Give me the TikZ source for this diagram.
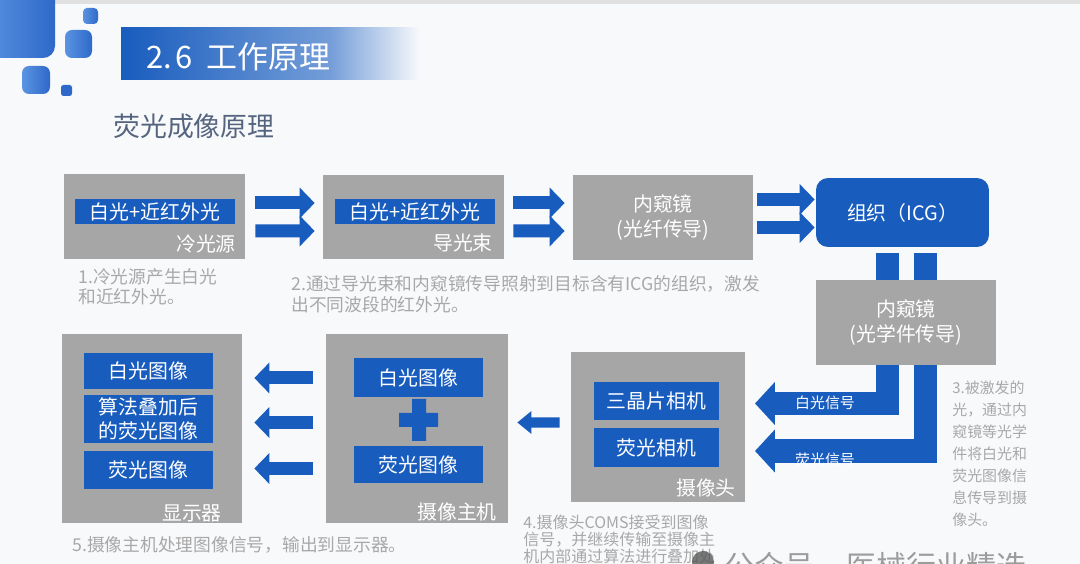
\documentclass[tikz,border=0pt]{standalone}
\usepackage{fontspec}
\setmainfont{Noto Sans CJK SC}
\usetikzlibrary{arrows.meta,calc}
\definecolor{pageback}{HTML}{F8F9FB}
\definecolor{boxgray}{HTML}{A6A6A6}
\definecolor{boxblue}{HTML}{185CBE}
\definecolor{notegray}{HTML}{A8A8A8}
\definecolor{subblue}{HTML}{56657F}
\definecolor{decolight}{HTML}{5B94E2}
\definecolor{decodark}{HTML}{2E69C9}

\begin{document}
\begin{tikzpicture}[x=0.02cm,y=-0.02cm,
  graybox/.style={fill=boxgray,inner sep=0pt,text=white,align=center,font=\fontsize{11.3pt}{14.7pt}\selectfont},
  bluebox/.style={fill=boxblue,inner sep=0pt,text=white,align=center,font=\fontsize{11.3pt}{13.6pt}\selectfont},
  boxlabel/.style={text=white,inner sep=0pt,font=\fontsize{11.3pt}{13pt}\selectfont},
  note/.style={text=notegray,inner sep=0pt,anchor=north west,align=left,font=\fontsize{10.1pt}{11.4pt}\selectfont},
  siglabel/.style={text=white,inner sep=0pt,font=\fontsize{8.5pt}{10pt}\selectfont},
  flow/.style={draw=boxblue,line width=7.4pt,-{Triangle[length=8.5pt,width=17pt]}},
  signal/.style={draw=boxblue,line width=13.6pt,line join=miter,-{Triangle[length=11.3pt,width=23.8pt]}},
  bar/.style={draw=boxblue,line width=13.6pt},
  small/.style={draw=boxblue,line width=5.7pt,-{Triangle[length=8pt,width=12.5pt]}},
  deco/.style={left color=decolight,right color=decodark}]
\useasboundingbox (0,0) rectangle (1080,564);
\clip (0,0) rectangle (1080,564);
\fill[pageback] (0,0) rectangle (1080,564);
\fill[black!12] (0,0) rectangle (1080,4);
\shade[deco,rounded corners=0.24cm] (-20,-20) rectangle (55,58);
\shade[deco,rounded corners=0.08cm] (83,8) rectangle (98,24);
\shade[deco,rounded corners=0.14cm] (65,30) rectangle (92,58);
\shade[deco,rounded corners=0.14cm] (22,66) rectangle (50,94);
\fill[decodark,rounded corners=0.05cm] (61,85) rectangle (72,96);
\shade[left color=boxblue,right color=boxblue!60!white] (121,28) rectangle (330,80);
\shade[left color=boxblue!60!white,right color=pageback] (330,28) rectangle (420,80);
\node[anchor=west,text=white,inner sep=0pt,font=\fontsize{17.6pt}{20pt}\selectfont] (title) at (146,57) {2.\hspace{0.12em}6\hspace{0.45em}工作原理};
\node[anchor=west,text=subblue,inner sep=0pt,font=\fontsize{15.3pt}{18pt}\selectfont] (subtitle) at (113,126) {荧光成像原理};

\node[graybox,minimum width=3.62cm,minimum height=1.70cm] (cold) at (154.5,216.5) {};
\node[bluebox,minimum width=3.20cm,minimum height=0.50cm] (coldin) at (155,211.5) {白光+近红外光};
\node[boxlabel] (coldlab) at (206,243.5) {冷光源};
\node[graybox,minimum width=3.62cm,minimum height=1.68cm] (guide) at (413.5,217) {};
\node[bluebox,minimum width=3.20cm,minimum height=0.50cm] (guidein) at (415,211.5) {白光+近红外光};
\node[boxlabel] (guidelab) at (463,243) {导光束};
\node[graybox,minimum width=3.60cm,minimum height=1.70cm] (endoa) at (663,217.5) {内窥镜\\(光纤传导)};
\node[bluebox,rounded corners=0.24cm,minimum width=3.46cm,minimum height=1.38cm] (icg) at (902.5,212.5) {组织（ICG）};
\node[graybox,minimum width=3.60cm,minimum height=1.70cm] (endob) at (906,322.5) {内窥镜\\(光学件传导)};

\node[graybox,minimum width=3.48cm,minimum height=3.00cm] (camera) at (658,427) {};
\node[bluebox,minimum width=2.50cm,minimum height=0.76cm] (camw) at (656.5,401) {三晶片相机};
\node[bluebox,minimum width=2.50cm,minimum height=0.78cm] (camf) at (656.5,447.5) {荧光相机};
\node[boxlabel] (cameralab) at (706,488) {摄像头};
\node[graybox,minimum width=3.64cm,minimum height=3.78cm] (host) at (417,428.5) {};
\node[bluebox,minimum width=2.58cm,minimum height=0.78cm] (hostw) at (418.5,377.5) {白光图像};
\node[bluebox,minimum width=2.58cm,minimum height=0.74cm] (hostf) at (418.5,464.5) {荧光图像};
\fill[boxblue] (412,399) rectangle (426,441) (399,413) rectangle (438,427);
\node[boxlabel] (hostlab) at (457,512) {摄像主机};
\node[graybox,minimum width=3.60cm,minimum height=3.78cm] (monitor) at (152,428.5) {};
\node[bluebox,minimum width=2.58cm,minimum height=0.72cm] (monw) at (148.5,371) {白光图像};
\node[bluebox,minimum width=2.58cm,minimum height=0.96cm] (monm) at (148.5,419) {算法叠加后\\的荧光图像};
\node[bluebox,minimum width=2.58cm,minimum height=0.76cm] (monf) at (148.5,470) {荧光图像};
\node[boxlabel] (monitorlab) at (192,513) {显示器};

\draw[flow] ($(cold.east)+(10,-13.5)$) -- ($(guide.west)+(-8,-14)$);
\draw[flow] ($(cold.east)+(10,14.5)$) -- ($(guide.west)+(-8,14)$);
\draw[flow] ($(guide.east)+(9,-14)$) -- ($(endoa.west)+(-8,-14.5)$);
\draw[flow] ($(guide.east)+(9,14)$) -- ($(endoa.west)+(-8,13.5)$);
\draw[flow] ($(endoa.east)+(4,-18)$) -- ($(icg.west)+(-1,-13)$);
\draw[flow] ($(endoa.east)+(4,10)$) -- ($(icg.west)+(-1,15)$);

\coordinate (wcol) at ($(endob.north)+(-18.5,0)$);
\coordinate (fcol) at ($(endob.north)+(19.5,0)$);
\draw[bar] ($(wcol |- icg.south)+(0,6)$) -- (wcol);
\draw[bar] ($(fcol |- icg.south)+(0,6)$) -- (fcol);
\coordinate (wtip) at (755,403.5);
\coordinate (ftip) at (755,451);
\draw[signal] (wcol |- endob.south) |- (wtip);
\draw[signal] (fcol |- endob.south) |- (ftip);
\node[siglabel] (wsig) at (825,403) {白光信号};
\node[siglabel] (fsig) at (825,460) {荧光信号};

\draw[small] ($(camera.west)+(-11,-4.5)$) -- ($(host.east)+(9,-6)$);
\draw[flow] ($(host.west)+(-13,-50.5)$) -- ($(monitor.east)+(12,-50.5)$);
\draw[flow] ($(host.west)+(-13,-6)$) -- ($(monitor.east)+(12,-6)$);
\draw[flow] ($(host.west)+(-13,40)$) -- ($(monitor.east)+(12,40)$);

\node[note] (notea) at (78,268) {1.冷光源产生白光\\和近红外光。};
\node[note,font=\fontsize{10.1pt}{11.9pt}\selectfont] (noteb) at (291,275) {2.通过导光束和内窥镜传导照射到目标含有ICG的组织，激发\\出不同波段的红外光。};
\node[note,font=\fontsize{8.5pt}{12.5pt}\selectfont] (notec) at (952,380.5) {3.被激发的\\光，通过内\\窥镜等光学\\件将白光和\\荧光图像信\\息传导到摄\\像头。};
\node[note,font=\fontsize{9.1pt}{9.6pt}\selectfont] (noted) at (523,515) {4.摄像头COMS接受到图像\\信号，并继续传输至摄像主\\机内部通过算法进行叠加处};
\node[note] (notee) at (72,536) {5.摄像主机处理图像信号，输出到显示器。};

\fill[black!65,opacity=0.8] (703,562) circle (0.22cm);
\node[anchor=west,text=black!45,opacity=0.85,inner sep=0pt,font=\fontsize{17pt}{20pt}\selectfont] (mark) at (724,566) {公众号\hspace{1.1em}医械行业精选};
\end{tikzpicture}
\end{document}
